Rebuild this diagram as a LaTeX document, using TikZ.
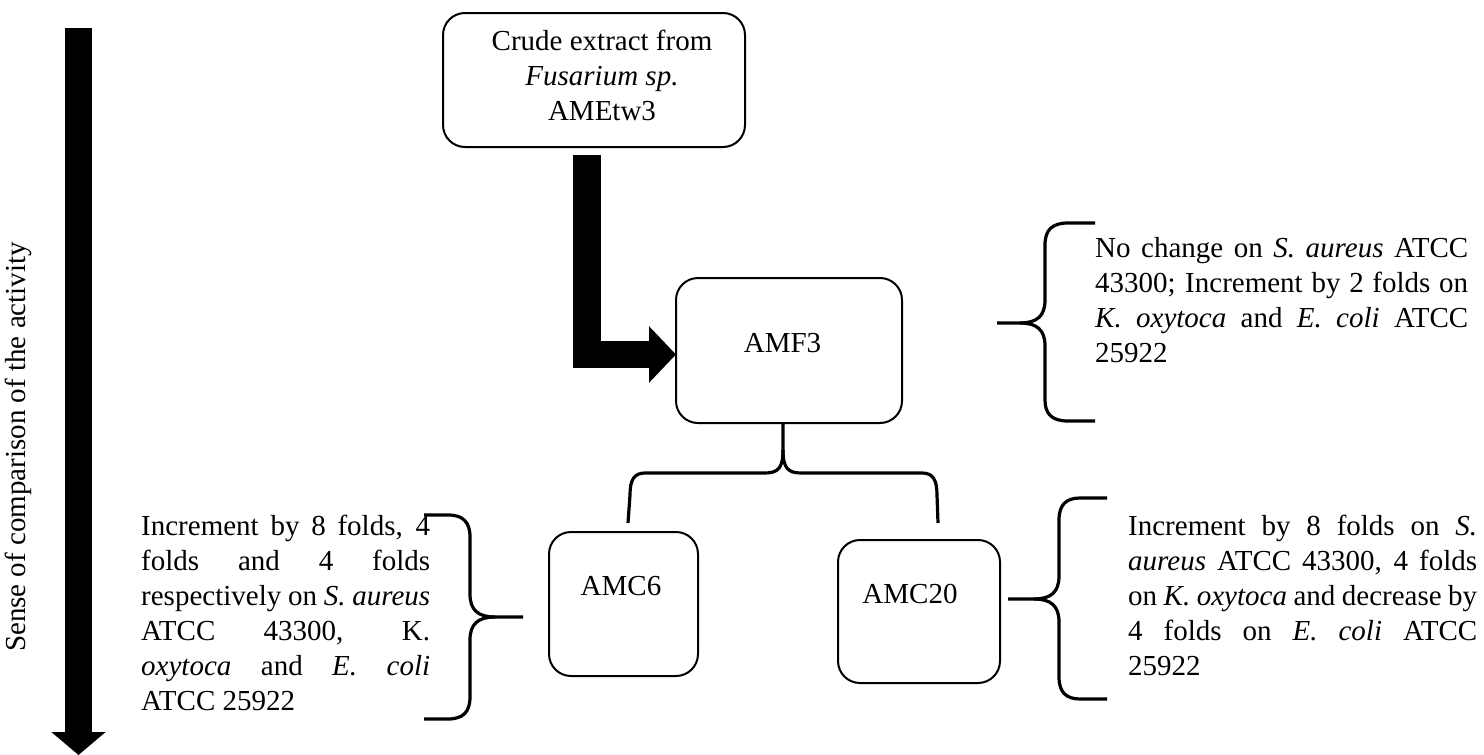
\documentclass[tikz,border=0pt]{standalone}
\usepackage{fontspec}
\setmainfont{Liberation Serif}
\usetikzlibrary{arrows.meta}
\newcommand\jl[1]{\makebox[\linewidth][s]{#1}\\}
\newcommand\txtfont{\fontsize{29}{35}\selectfont}
\begin{document}
\begin{tikzpicture}[x=1pt,y=-1pt,
  box/.style={draw, line width=2pt, rounded corners=22pt, inner sep=0pt},
  txt/.style={inner sep=0pt, font=\txtfont},
  brace/.style={line width=3.2pt, line join=round, line cap=butt},
  bigarrow/.style={line width=27.5pt, -{Triangle[length=27pt,width=55pt]}},
  sidearrow/.style={line width=27pt, -{Triangle[length=23pt,width=53pt]}}]
\useasboundingbox (0,0) rectangle (1484,755);

% boxes
\node[box, minimum width=302pt, minimum height=134pt] (top) at (594,80) {};
\node[box, minimum width=226pt, minimum height=145pt] (amf3) at (789,350.5) {};
\node[box, minimum width=149pt, minimum height=144pt] (amc6) at (623.5,604) {};
\node[box, minimum width=162pt, minimum height=143pt] (amc20) at (919,611.5) {};

% box texts
\node[txt, anchor=base] (ttop) at (602,50) {\parbox[t]{300pt}{\centering\txtfont Crude extract from\\\textit{Fusarium sp.}\\AMEtw3}};
\node[txt, anchor=base] (tamf3) at (782.5,352) {AMF3};
\node[txt, anchor=base] (tamc6) at (621,595) {AMC6};
\node[txt, anchor=base] (tamc20) at (910,603) {AMC20};

% side texts
\node[txt, anchor=base west] (rup) at (1095,257) {\parbox[t]{373pt}{\txtfont
\jl{No change on \textit{S. aureus} ATCC}\jl{43300; Increment by 2 folds on}\jl{\textit{K. oxytoca} and \textit{E. coli} ATCC}25922}};
\node[txt, anchor=base west] (rlow) at (1128,535) {\parbox[t]{349pt}{\txtfont
\jl{Increment by 8 folds on \textit{S.}}\jl{\textit{aureus} ATCC 43300, 4 folds}\jl{on \textit{K. oxytoca} and decrease by}\jl{4 folds on \textit{E. coli} ATCC}25922}};
\node[txt, anchor=base west] (lft) at (141,535) {\parbox[t]{289pt}{\txtfont
\jl{Increment by 8 folds, 4}\jl{folds and 4 folds}\jl{respectively on \textit{S. aureus}}\jl{ATCC 43300, K.}\jl{\textit{oxytoca} and \textit{E. coli}}ATCC 25922}};

% vertical label and arrow
\node[txt, rotate=90] (sense) at (18,447) {Sense of comparison of the activity};
\coordinate (v1) at (78.5,28);
\coordinate (v2) at (78.5,755);
\draw[sidearrow] (v1) -- (v2);

% elbow arrow
\coordinate (e1) at (587,155);
\coordinate (e2) at (676,354.5);
\draw[bigarrow] (e1) |- (e2);

% fork brace below AMF3
\coordinate (fk) at (783,423);
\draw[brace] (fk) -- (783,450) .. controls (783,468) and (778,473) .. (765,473) -- (645,473) .. controls (634,473) and (630,480) .. (630,495) -- (628,523);
\draw[brace] (783,450) .. controls (783,468) and (788,473) .. (801,473) -- (922,473) .. controls (933,473) and (937,480) .. (937,495) -- (938,523);

% upper right brace
\coordinate (b1) at (997,323);
\draw[brace] (1095,223) -- (1068,223) .. controls (1052,223) and (1045,230) .. (1045,245) -- (1045,300) .. controls (1045,316) and (1037,323) .. (1020,323) -- (b1);
\draw[brace] (1020,323) .. controls (1037,323) and (1045,330) .. (1045,346) -- (1045,400) .. controls (1045,414) and (1052,421) .. (1068,421) -- (1095,421);

% lower right brace
\coordinate (b2) at (1008,599);
\draw[brace] (1107,498) -- (1080,498) .. controls (1066,498) and (1059,505) .. (1059,520) -- (1059,576) .. controls (1059,592) and (1051,599) .. (1034,599) -- (b2);
\draw[brace] (1034,599) .. controls (1051,599) and (1059,606) .. (1059,622) -- (1059,677) .. controls (1059,692) and (1066,699) .. (1080,699) -- (1107,699);

% left brace
\coordinate (b3) at (523,617);
\draw[brace] (424,515) -- (448,515) .. controls (463,515) and (470,522) .. (470,537) -- (470,594) .. controls (470,610) and (478,617) .. (495,617) -- (b3);
\draw[brace] (495,617) .. controls (478,617) and (470,624) .. (470,640) -- (470,697) .. controls (470,712) and (463,719) .. (448,719) -- (424,719);
\end{tikzpicture}
\end{document}
